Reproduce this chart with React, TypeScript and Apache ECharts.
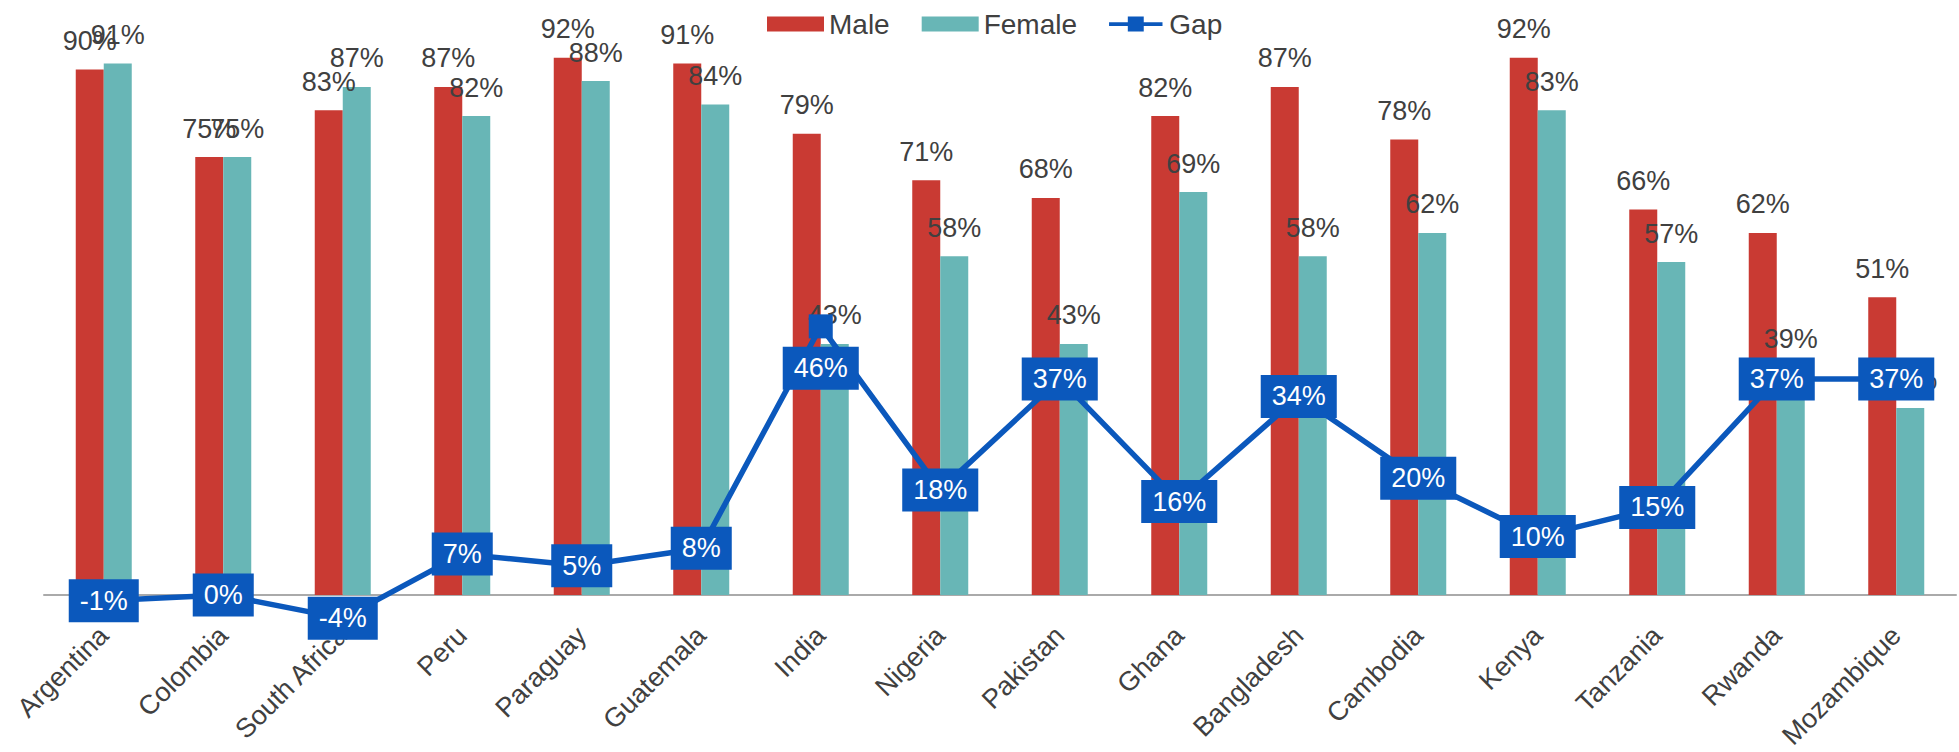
import React, { useEffect, useRef } from "react";
import * as echarts from "echarts";

const categories = [
  "Argentina", "Colombia", "South Africa", "Peru", "Paraguay", "Guatemala",
  "India", "Nigeria", "Pakistan", "Ghana", "Bangladesh", "Cambodia",
  "Kenya", "Tanzania", "Rwanda", "Mozambique",
];
const maleValues = [90, 75, 83, 87, 92, 91, 79, 71, 68, 82, 87, 78, 92, 66, 62, 51];
const femaleValues = [91, 75, 87, 82, 88, 84, 43, 58, 43, 69, 58, 62, 83, 57, 39, 32];
const gapValues = [-1, 0, -4, 7, 5, 8, 46, 18, 37, 16, 34, 20, 10, 15, 37, 37];

const FONT = "'Liberation Sans', Arial, Helvetica, sans-serif";
const TEXT = "#404040";
const RED = "#c93a33";
const TEAL = "#68b6b6";
const BLUE = "#0b58bc";
const GAP_ICON =
  "path://M0,6 L20,6 L20,0 L37,0 L37,6 L57,6 L57,10 L37,10 L37,16 L20,16 L20,10 L0,10 Z";

export default function App() {
  const ref = useRef<HTMLDivElement>(null);
  useEffect(() => {
    document.body.style.margin = "0";
    if (!ref.current) return;
    const chart = echarts.init(ref.current, null, { renderer: "svg" });
    const gapData = gapValues.map((v, i) =>
      categories[i] === "India" ? { value: v, label: { offset: [0, 42] } } : { value: v }
    );
    chart.setOption({
      animation: false,
      textStyle: { fontFamily: FONT },
      legend: {
        left: 762,
        top: 5,
        itemWidth: 57,
        itemHeight: 15,
        itemGap: 32,
        textStyle: { fontSize: 28, color: TEXT, fontFamily: FONT },
        data: [
          { name: "Male", icon: "rect" },
          { name: "Female", icon: "rect" },
          { name: "Gap", icon: GAP_ICON, itemStyle: { color: BLUE } },
        ],
      },
      grid: {
        left: 44,
        right: 3,
        top: 11,
        bottom: 157,
        containLabel: false,
        outerBoundsMode: "none",
      },
      xAxis: {
        type: "category",
        data: categories,
        axisLine: { lineStyle: { color: "#aaaaaa", width: 2 } },
        axisTick: { show: false },
        axisLabel: {
          rotate: 45,
          margin: 36,
          fontSize: 27,
          color: TEXT,
          fontFamily: FONT,
          interval: 0,
        },
      },
      yAxis: {
        type: "value",
        min: 0,
        max: 100,
        show: false,
        splitLine: { show: false },
      },
      series: [
        {
          name: "Male",
          type: "bar",
          data: maleValues,
          barWidth: 28,
          barGap: "0%",
          itemStyle: { color: RED },
          z: 2,
          label: {
            show: true,
            position: "top",
            distance: 15,
            formatter: "{c}%",
            fontSize: 27,
            color: TEXT,
            fontFamily: FONT,
          },
        },
        {
          name: "Female",
          type: "bar",
          data: femaleValues,
          barWidth: 28,
          itemStyle: { color: TEAL },
          z: 2,
          label: {
            show: true,
            position: "top",
            distance: 15,
            formatter: "{c}%",
            fontSize: 27,
            color: TEXT,
            fontFamily: FONT,
          },
        },
        {
          name: "Gap",
          type: "line",
          data: gapData,
          z: 5,
          clip: false,
          symbol: "rect",
          symbolSize: 24,
          itemStyle: { color: BLUE },
          lineStyle: { color: BLUE, width: 5.5 },
          label: {
            show: true,
            position: "inside",
            formatter: "{c}%",
            fontSize: 27,
            color: "#ffffff",
            fontFamily: FONT,
            backgroundColor: BLUE,
            padding: [9, 11, 7, 11],
          },
        },
      ],
    });
    return () => chart.dispose();
  }, []);
  return <div ref={ref} style={{ width: 1959, height: 752 }} />;
}
